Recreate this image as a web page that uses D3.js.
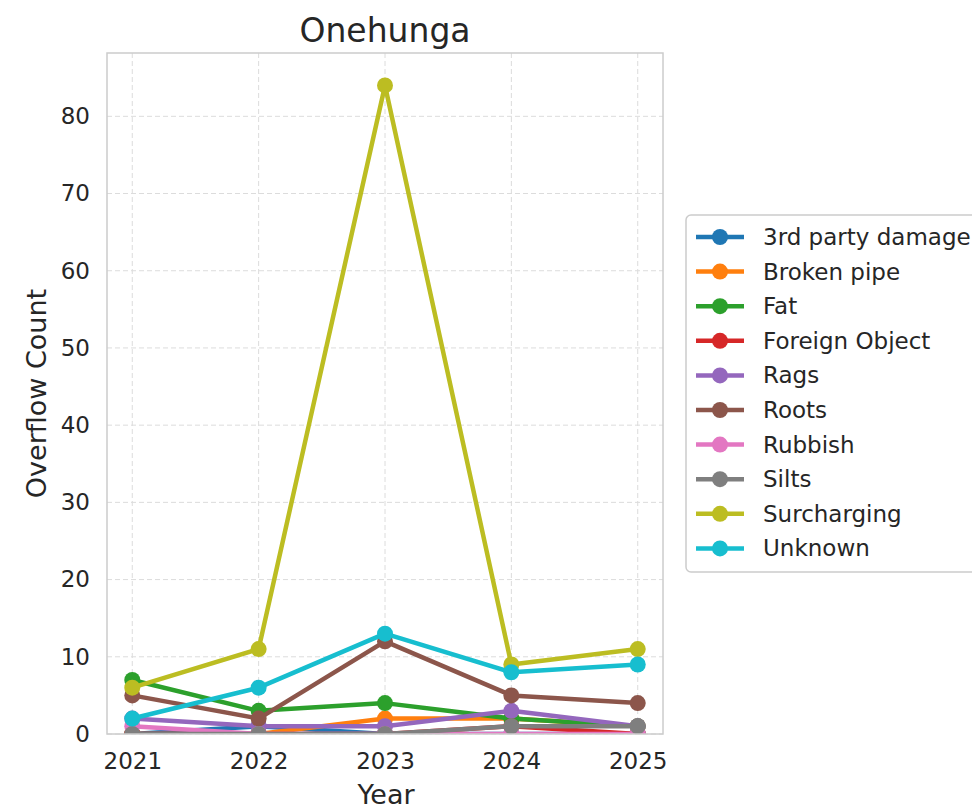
<!DOCTYPE html>
<html>
<head>
<meta charset="utf-8">
<script src="https://cdn.jsdelivr.net/npm/d3@7"></script>
<style>
  html, body { margin: 0; padding: 0; background: #fff; }
  svg { display: block; font-family: "DejaVu Sans", sans-serif; }
</style>
</head>
<body>
<svg id="chart" width="972" height="810"></svg>
<script>
// Overflow counts per cause, Onehunga, 2021-2025
const years = [2021, 2022, 2023, 2024, 2025];
const yTicks = [0, 10, 20, 30, 40, 50, 60, 70, 80];
const causes = ["3rd party damage", "Broken pipe", "Fat", "Foreign Object", "Rags",
                "Roots", "Rubbish", "Silts", "Surcharging", "Unknown"];
const colors = ["#1f77b4", "#ff7f0e", "#2ca02c", "#d62728", "#9467bd",
                "#8c564b", "#e377c2", "#7f7f7f", "#bcbd22", "#17becf"];
const thirdParty   = [0, 1, 0, 0, 0];
const brokenPipe   = [0, 0, 2, 2, 1];
const fat          = [7, 3, 4, 2, 1];
const foreignObj   = [0, 0, 0, 1, 0];
const rags         = [2, 1, 1, 3, 1];
const roots        = [5, 2, 12, 5, 4];
const rubbish      = [1, 0, 0, 0, 0];
const silts        = [0, 0, 0, 1, 1];
const surcharging  = [6, 11, 84, 9, 11];
const unknown      = [2, 6, 13, 8, 9];
const seriesValues = [thirdParty, brokenPipe, fat, foreignObj, rags,
                      roots, rubbish, silts, surcharging, unknown];

const svg = d3.select("#chart");
const plotL = 107, plotR = 663, plotT = 53, plotB = 734;
const textColor = "#262626";

const x = d3.scaleLinear().domain([2020.8, 2025.2]).range([plotL, plotR]);
const y = d3.scaleLinear().domain([0, 88.2]).range([plotB, plotT]);

// clip region for the plot area
svg.append("defs").append("clipPath").attr("id", "plotClip")
  .append("rect").attr("x", plotL).attr("y", plotT)
  .attr("width", plotR - plotL).attr("height", plotB - plotT);

// grid
const grid = svg.append("g");
grid.selectAll("line.gx").data(years).join("line")
  .attr("x1", d => x(d)).attr("x2", d => x(d))
  .attr("y1", plotT).attr("y2", plotB)
  .attr("stroke", "#dcdcdc").attr("stroke-width", 1).attr("stroke-dasharray", "5,3");
grid.selectAll("line.gy").data(yTicks).join("line")
  .attr("x1", plotL).attr("x2", plotR)
  .attr("y1", d => y(d)).attr("y2", d => y(d))
  .attr("stroke", "#dcdcdc").attr("stroke-width", 1).attr("stroke-dasharray", "5,3");

// series
const plot = svg.append("g").attr("clip-path", "url(#plotClip)");
const line = d3.line().x((d, i) => x(years[i])).y(d => y(d));
causes.forEach((c, k) => {
  const g = plot.append("g");
  g.append("path").datum(seriesValues[k])
    .attr("d", line).attr("fill", "none")
    .attr("stroke", colors[k]).attr("stroke-width", 4.5)
    .attr("stroke-linejoin", "round").attr("stroke-linecap", "round");
  g.selectAll("circle").data(seriesValues[k]).join("circle")
    .attr("cx", (d, i) => x(years[i])).attr("cy", d => y(d))
    .attr("r", 8).attr("fill", colors[k]);
});

// frame
svg.append("rect").attr("x", plotL).attr("y", plotT)
  .attr("width", plotR - plotL).attr("height", plotB - plotT)
  .attr("fill", "none").attr("stroke", "#cccccc").attr("stroke-width", 1.5);

// axes
const xAxis = svg.append("g").attr("transform", `translate(0,${plotB})`)
  .call(d3.axisBottom(x).tickValues(years).tickFormat(d3.format("d")).tickSize(0).tickPadding(19));
const yAxis = svg.append("g").attr("transform", `translate(${plotL},0)`)
  .call(d3.axisLeft(y).tickValues(yTicks).tickSize(0).tickPadding(17));
[xAxis, yAxis].forEach(a => {
  a.select(".domain").remove();
  a.selectAll("text").attr("font-size", 23).attr("fill", textColor)
    .attr("font-family", "DejaVu Sans, sans-serif");
});

// titles
svg.append("text").attr("x", 385).attr("y", 42).attr("text-anchor", "middle")
  .attr("font-size", 33).attr("fill", textColor).text("Onehunga");
svg.append("text").attr("x", 386).attr("y", 804).attr("text-anchor", "middle")
  .attr("font-size", 27).attr("fill", textColor).text("Year");
svg.append("text").attr("transform", `translate(46,${(plotT + plotB) / 2}) rotate(-90)`)
  .attr("text-anchor", "middle").attr("font-size", 27).attr("fill", textColor)
  .text("Overflow Count");

// legend
const lg = svg.append("g");
lg.append("rect").attr("x", 686).attr("y", 215).attr("width", 300).attr("height", 357)
  .attr("rx", 5).attr("fill", "#fff").attr("stroke", "#cccccc").attr("stroke-width", 1.5);
causes.forEach((c, k) => {
  const cy = 237 + k * 34.6;
  lg.append("line").attr("x1", 696).attr("x2", 744).attr("y1", cy).attr("y2", cy)
    .attr("stroke", colors[k]).attr("stroke-width", 4.5);
  lg.append("circle").attr("cx", 720).attr("cy", cy).attr("r", 8).attr("fill", colors[k]);
  lg.append("text").attr("x", 763).attr("y", cy + 8).attr("font-size", 23)
    .attr("fill", textColor).text(c);
});
</script>
</body>
</html>
